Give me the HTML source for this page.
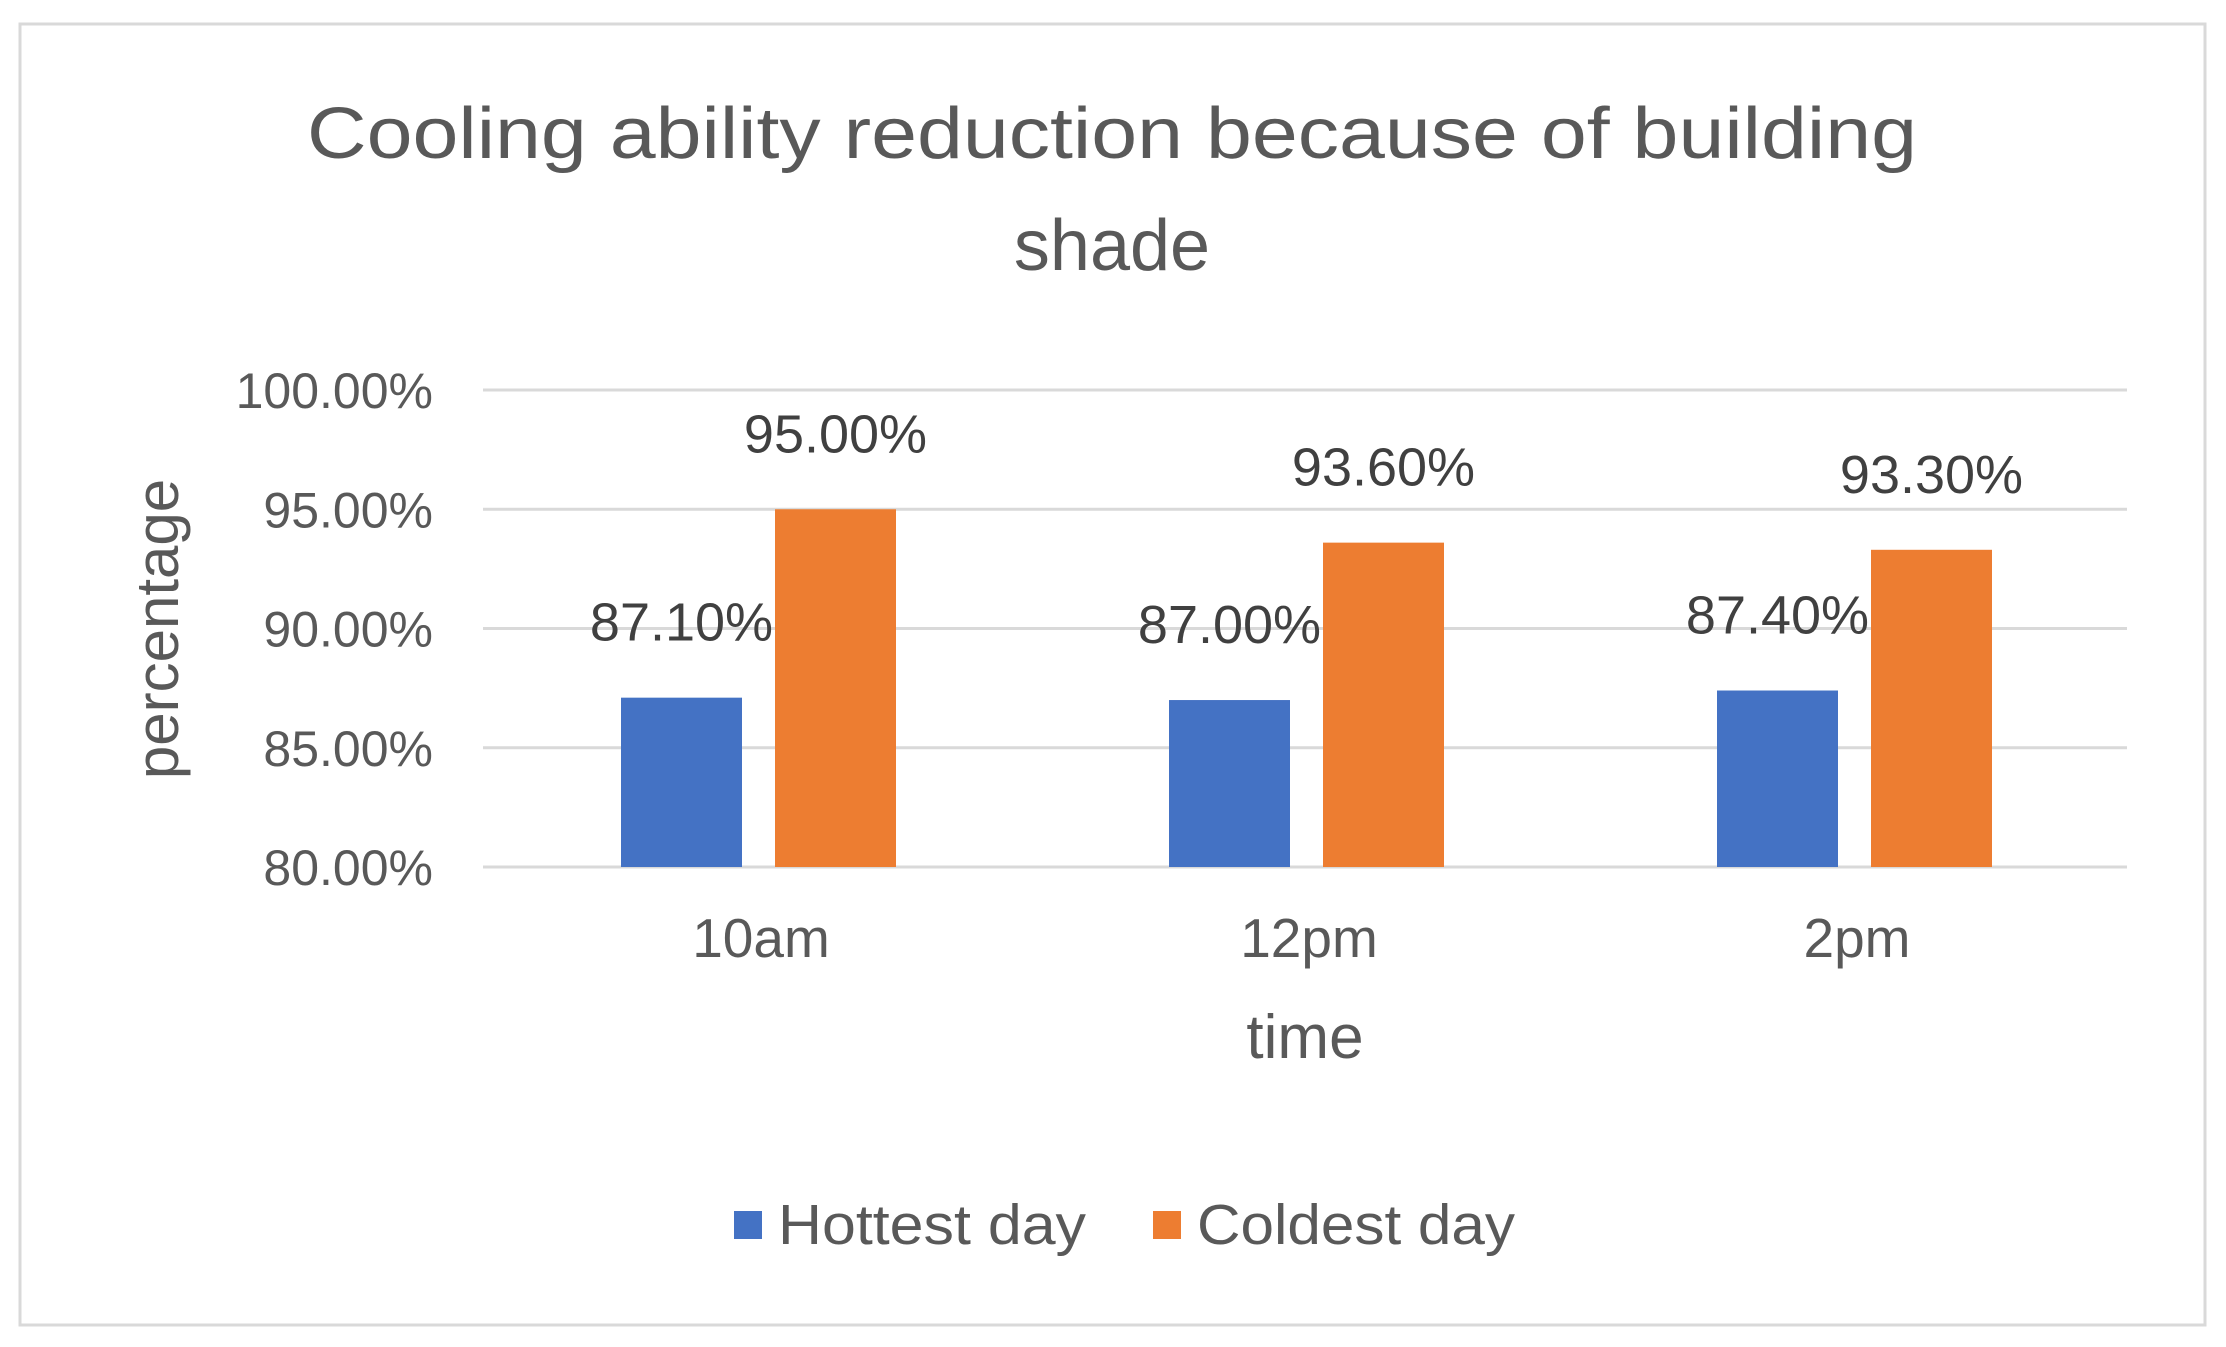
<!DOCTYPE html>
<html><head><meta charset="utf-8"><style>
html,body{margin:0;padding:0;background:#fff;}
svg{display:block;font-family:"Liberation Sans","Noto Sans CJK SC",sans-serif;}
</style></head><body>
<svg id="chart" width="2226" height="1347" viewBox="0 0 2226 1347">
<rect x="20" y="24" width="2185" height="1301" fill="#fff" stroke="#d9d9d9" stroke-width="3"/>
<text x="307" y="158" textLength="1610" lengthAdjust="spacingAndGlyphs" font-size="72" fill="#595959">Cooling ability reduction because of building</text>
<text x="1112" y="270" text-anchor="middle" font-size="72" fill="#595959">shade</text>
<g id="grid"></g>
<g id="bars"></g>
<g id="labels"></g>
<text transform="translate(178,629) rotate(-90)" text-anchor="middle" font-size="60" fill="#595959">percentage</text>
<text x="1305" y="1058" text-anchor="middle" font-size="62" fill="#595959">time</text>
<rect x="734" y="1211" width="28" height="28" fill="#4472c4"/>
<text x="778" y="1244" textLength="308" lengthAdjust="spacingAndGlyphs" font-size="57" fill="#595959">Hottest day</text>
<rect x="1153" y="1211" width="28" height="28" fill="#ed7d31"/>
<text x="1197" y="1244" textLength="318" lengthAdjust="spacingAndGlyphs" font-size="57" fill="#595959">Coldest day</text>
</svg>
<script>
const categories = ["10am","12pm","2pm"];
const hottest = [87.1, 87.0, 87.4];
const coldest = [95.0, 93.6, 93.3];
const ticks = [80, 85, 90, 95, 100];
const NS = "http://www.w3.org/2000/svg";
const x0 = 483, x1 = 2127, yTop = 390, yBot = 867, vMin = 80, vMax = 100;
const catW = (x1 - x0) / categories.length;
function y(v){ return yBot - (v - vMin) / (vMax - vMin) * (yBot - yTop); }
function mk(tag, attrs, parent){ const e = document.createElementNS(NS, tag); for (const k in attrs) e.setAttribute(k, attrs[k]); parent.appendChild(e); return e; }
const grid = document.getElementById('grid'), bars = document.getElementById('bars'), labels = document.getElementById('labels');
ticks.forEach(t => {
  const l = mk('line', {x1:x0, x2:x1, y1:y(t), y2:y(t), stroke:'#d9d9d9', 'stroke-width':3}, grid);
  
  
  const tx = mk('text', {x:433, y:y(t)+18, 'text-anchor':'end', 'font-size':50, fill:'#595959'}, grid);
  tx.textContent = t.toFixed(2) + '%';
  
  
});
const bw = 121;
categories.forEach((c, i) => {
  const cs = x0 + i * catW;
  const series = [[hottest[i], cs + 138, '#4472c4', 'bar-hottest'], [coldest[i], cs + 292, '#ed7d31', 'bar-coldest']];
  series.forEach(s => {
    const r = mk('rect', {x:s[1], y:y(s[0]), width:bw, height:yBot - y(s[0]), fill:s[2]}, bars);
    
    
    const t = mk('text', {x:s[1] + bw/2, y:y(s[0]) - 57, 'text-anchor':'middle', 'font-size':54, fill:'#404040'}, labels);
    t.textContent = s[0].toFixed(2) + '%';
    
    
  });
  const cl = mk('text', {x:cs + catW/2 + 4, y:957, 'text-anchor':'middle', 'font-size':55, fill:'#595959'}, labels);
  cl.textContent = c;
  
  
});
</script>
</body></html>
